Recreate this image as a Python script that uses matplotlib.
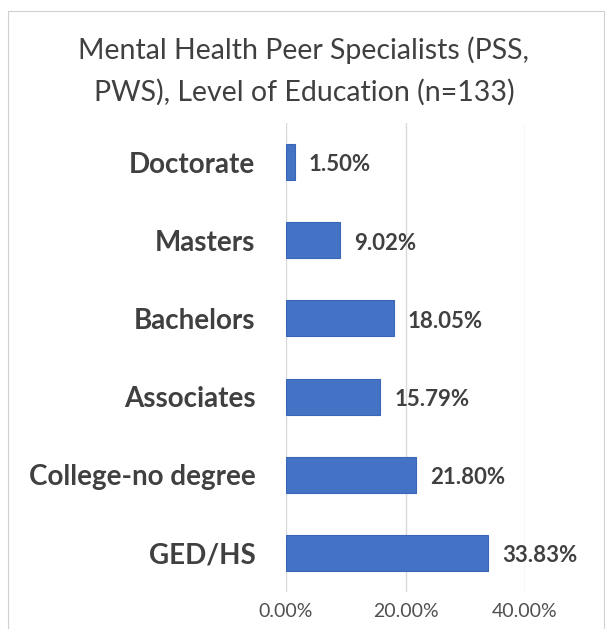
import matplotlib
matplotlib.use('Agg')
import matplotlib.pyplot as plt
from matplotlib.ticker import FuncFormatter
from matplotlib.patches import Rectangle

categories = ['GED/HS', 'College-no degree', 'Associates', 'Bachelors', 'Masters', 'Doctorate']
percent = [33.83, 21.80, 15.79, 18.05, 9.02, 1.50]
ticks = [0, 20, 40]

plt.rcParams['font.family'] = ['Lato', 'DejaVu Sans']

fig = plt.figure(figsize=(6.08, 6.29), dpi=100)
ax = fig.add_axes([0.4704, 0.0588, 0.8635 - 0.4704, 0.8045 - 0.0588])

bars = ax.barh(range(len(categories)), percent, height=0.46, color='#4472C4',
               edgecolor='#3a66b8', linewidth=0.8, zorder=3)

for b, v in zip(bars, percent):
    ax.annotate(f'{v:.2f}%', (b.get_width(), b.get_y() + b.get_height() / 2),
                xytext=(10, -2), textcoords='offset points', va='center', ha='left',
                fontsize=16, fontweight='bold', color='#404040')

ax.set_xlim(0, 40)
ax.set_ylim(-0.5, len(categories) - 0.5)
ax.set_xticks(ticks)
ax.xaxis.set_major_formatter(FuncFormatter(lambda x, p: f'{x:.2f}%'))
ax.set_yticks(range(len(categories)))
ax.set_yticklabels(categories, fontsize=20, fontweight='bold', color='#404040')
ax.tick_params(axis='y', length=0, pad=22)
ax.tick_params(axis='x', length=0, pad=8, labelsize=14, labelcolor='#505050')
ax.grid(axis='x', color='#d9d9d9', linewidth=1, zorder=0)
for s in ax.spines.values():
    s.set_visible(False)

fig.text(0.5, 0.887, 'Mental Health Peer Specialists (PSS,\nPWS), Level of Education (n=133)',
         ha='center', va='center', fontsize=20.5, color='#404040', linespacing=1.7)

fig.patches.append(Rectangle((0.013, 0.0), 0.98, 0.982, transform=fig.transFigure,
                             fill=False, edgecolor='#d0d0d0', linewidth=0.8))

fig.savefig('out.png', dpi=100)
